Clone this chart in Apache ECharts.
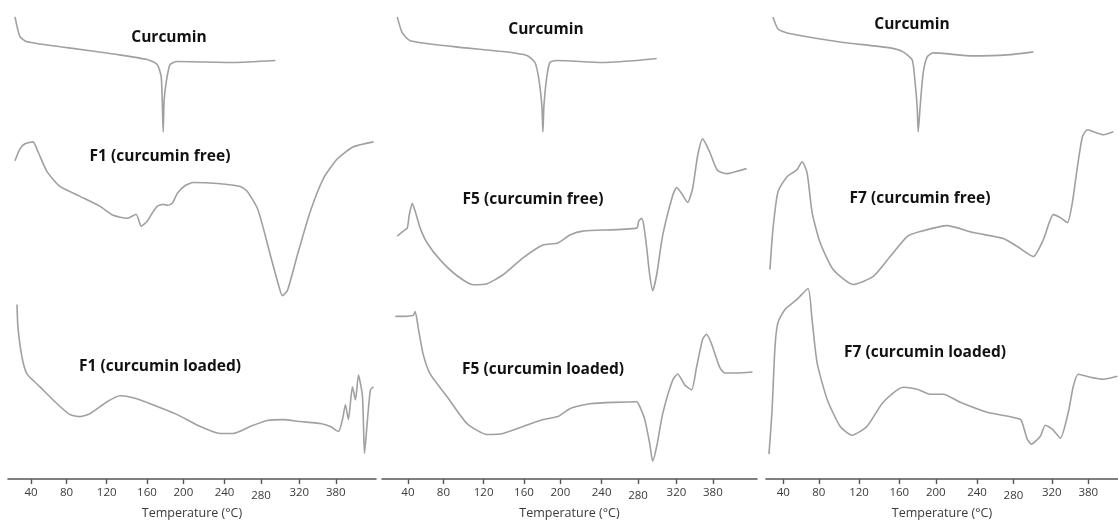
<!DOCTYPE html>
<html>
<head>
<meta charset="utf-8">
<script src="https://cdn.jsdelivr.net/npm/echarts@6/dist/echarts.min.js"></script>
<style>
html,body{margin:0;padding:0;background:#fff;}
#chart{width:1118px;height:525px;}
</style>
</head>
<body>
<div id="chart"></div>
<script>
// Tick positions (as placed on the original axis) and their printed labels
const tickPositions = [40, 77, 119, 161, 199, 242, 280, 320, 358];
const tickLabels = ['40', '80', '120', '160', '200', '240', '280', '320', '380'];
const axisName = 'Temperature (°C)';

// Curve names
const curveNames = [
  ['Curcumin', 'F1 (curcumin free)', 'F1 (curcumin loaded)'],
  ['Curcumin', 'F5 (curcumin free)', 'F5 (curcumin loaded)'],
  ['Curcumin', 'F7 (curcumin free)', 'F7 (curcumin loaded)']
];

// Panel 1 curves: [temperature, heat flow (arb.)]
const curcuminP1 = [[23.3,466],[28.5,446],[35.8,441],[77.6,435],[129.9,428],[161.2,423],[171.7,418],[175.8,406],[176.9,383],[177.9,350],[179.0,383],[182.1,406],[185.2,418],[192.6,421],[251.1,420],[295.0,422]];
const f1Free = [[23.3,321],[28.5,333],[33.7,338],[42.1,340],[47.3,330],[56.7,310],[70.3,295],[91.2,285],[112.1,275],[125.7,266],[140.3,263],[149.7,267],[155,255],[161.2,260],[166.4,268],[171.7,275],[177.9,277],[182.1,276],[187.3,278],[192.6,288],[200.9,296],[209.3,299],[234.4,298],[258.4,295],[265.7,290],[276.2,273],[282.4,253],[289.7,226],[297.1,200],[302.3,185],[307.5,190],[318,226],[331.5,270],[345.1,303],[359.8,323],[376.5,335],[397.4,340]];
const f1Loaded = [[25.4,176],[26.4,153],[30.6,123],[35.8,106],[49.4,93],[67.2,76],[80.8,65],[91.2,63],[101.7,66],[119.4,78],[133,84],[146.6,82],[164.3,76],[192.6,65],[216.6,53],[237.5,46],[251.1,46],[268.8,53],[286.6,59],[303.3,60],[321.1,58],[342,56],[352.4,53],[360.8,48],[365,60],[368.1,75],[371.2,60],[375.4,93],[378.6,80],[381.7,105],[385.9,83],[388,26],[391.1,60],[394.2,90],[397.4,93]];

// Panel 2 curves
const curcuminP2 = [[28.9,466],[34.1,450],[42.4,442],[87.1,436],[139.2,431],[164.1,427],[172.5,420],[176.6,403],[179.7,376],[180.8,350],[181.8,376],[184.9,406],[188.1,420],[195.4,422],[243.2,420],[278.6,422],[299.4,424]];
const f5Free = [[28.9,245],[35.1,250],[39.3,253],[41.4,266],[44.5,278],[47.6,270],[52.8,253],[60.1,238],[73.6,221],[91.3,205],[108,196],[122.5,197],[139.2,206],[160,223],[180.8,236],[196.4,238],[208.9,246],[222.4,250],[278.6,253],[280.7,260],[283.8,263],[285.9,256],[289,233],[292.1,206],[295.2,190],[299.4,206],[305.7,246],[316.1,286],[320.2,294],[325.4,288],[331.7,279],[336.9,293],[342.1,326],[347.3,343],[354.6,330],[362.9,311],[373.3,308],[385.8,311],[393.1,313]];
const f5Loaded = [[26.8,164],[45.5,165],[47.6,169],[50.7,153],[55.9,126],[63.2,106],[80.9,83],[101.7,56],[122.5,45],[139.2,46],[160,53],[180.8,60],[196.4,63],[208.9,71],[229.8,76],[278.6,78],[281.8,73],[287,60],[292.1,36],[295.2,18],[299.4,33],[305.7,66],[316.1,100],[321.3,106],[328.6,95],[335.8,90],[341,113],[347.3,141],[351.5,146],[356.7,136],[365,113],[370.2,107],[382.7,107],[399.3,108]];

// Panel 3 curves
const curcuminP3 = [[29.2,463],[34.5,451],[43.9,447],[99.2,438],[151.4,432],[165,428],[174.4,420],[177.5,397],[179.6,373],[180.7,348],[182.7,373],[185.9,407],[190.1,423],[196.3,427],[238.1,424],[273.5,425],[300.7,428]];
const f7Free = [[26.1,210],[29.2,250],[34.5,288],[43.9,303],[54.4,310],[59.6,318],[64.8,307],[70.1,267],[78.4,237],[92,210],[112.9,195],[133.8,203],[151.4,223],[169.2,243],[182.7,248],[210.9,254],[238.1,247],[269.4,241],[284,233],[300.7,223],[311.2,240],[321.6,265],[328.9,262],[336.2,257],[341.4,277],[346.7,313],[351.9,343],[357.1,350],[363.4,348],[373.8,345],[384.2,348]];
const f7Loaded = [[25.1,25],[28.2,67],[31.4,133],[34.5,157],[41.8,170],[54.3,180],[65.8,191],[70,160],[75.2,117],[85.7,80],[99.2,53],[111.7,44],[127.4,53],[144.1,77],[165,92],[179.6,90],[193.1,85],[206.7,85],[224.5,77],[252.6,67],[287.1,60],[290.3,53],[294.4,40],[298.6,35],[308,43],[313.2,54],[320.5,50],[328.9,41],[337.2,67],[342.4,93],[347.6,105],[360.2,102],[373.8,100],[388.4,103]];

const panelCurves = [
  [curcuminP1, f1Free, f1Loaded],
  [curcuminP2, f5Free, f5Loaded],
  [curcuminP3, f7Free, f7Loaded]
];

// layout (pixels) and axis ranges
const panels = [
  {left: 8, width: 368, bottom: 42, xMin: 16, xMax: 400, yMax: 483},
  {left: 382, width: 375, bottom: 42, xMin: 13, xMax: 404, yMax: 483},
  {left: 766, width: 352, bottom: 45, xMin: 22, xMax: 389, yMax: 480}
];
const labelPos = [
  [[169,38],[160,157],[160,367]],
  [[546,30],[533,200],[543,370]],
  [[912,25],[920,199],[925,353]]
];

const chart = echarts.init(document.getElementById('chart'), null, {renderer: 'canvas'});

const labelText = {fontFamily: 'Open Sans', fontSize: 11.5, color: '#3a3a3a'};
const grid = [], xAxis = [], yAxis = [], series = [], graphic = [];
panels.forEach((p, i) => {
  grid.push({left: p.left, width: p.width, top: 0, bottom: p.bottom, containLabel: false});
  xAxis.push({
    gridIndex: i, type: 'value', min: p.xMin, max: p.xMax,
    axisLine: {show: true, onZero: false, lineStyle: {color: '#555', width: 1.6}},
    axisTick: {show: true, customValues: tickPositions, length: 5, lineStyle: {color: '#555', width: 1.4}},
    axisLabel: Object.assign({
      customValues: tickPositions,
      formatter: v => {
        const k = tickPositions.indexOf(v);
        if (k < 0) return '';
        return tickLabels[k] === '280' ? '{low|' + tickLabels[k] + '}' : '{n|' + tickLabels[k] + '}';
      },
      margin: 8,
      rich: {
        n: Object.assign({}, labelText),
        low: Object.assign({padding: [3, 0, 0, 0]}, labelText)
      }
    }, labelText),
    splitLine: {show: false},
    name: axisName, nameLocation: 'middle', nameGap: 27,
    nameTextStyle: {fontFamily: 'Open Sans', fontSize: 12.5, color: '#3a3a3a'}
  });
  yAxis.push({gridIndex: i, type: 'value', min: 0, max: p.yMax, show: false});
  panelCurves[i].forEach((d, j) => {
    series.push({
      type: 'line', name: curveNames[i][j], xAxisIndex: i, yAxisIndex: i,
      data: d, showSymbol: false, smooth: 0.2,
      lineStyle: {color: '#a0a0a0', width: 1.6}, silent: true, animation: false
    });
    graphic.push({
      type: 'text', x: labelPos[i][j][0], y: labelPos[i][j][1],
      style: {text: curveNames[i][j], align: 'center', verticalAlign: 'middle',
        font: 'bold 15.5px "Open Sans"', fill: '#111'}
    });
  });
});

chart.setOption({
  backgroundColor: '#fff',
  animation: false,
  grid, xAxis, yAxis, series, graphic
});
</script>
</body>
</html>
